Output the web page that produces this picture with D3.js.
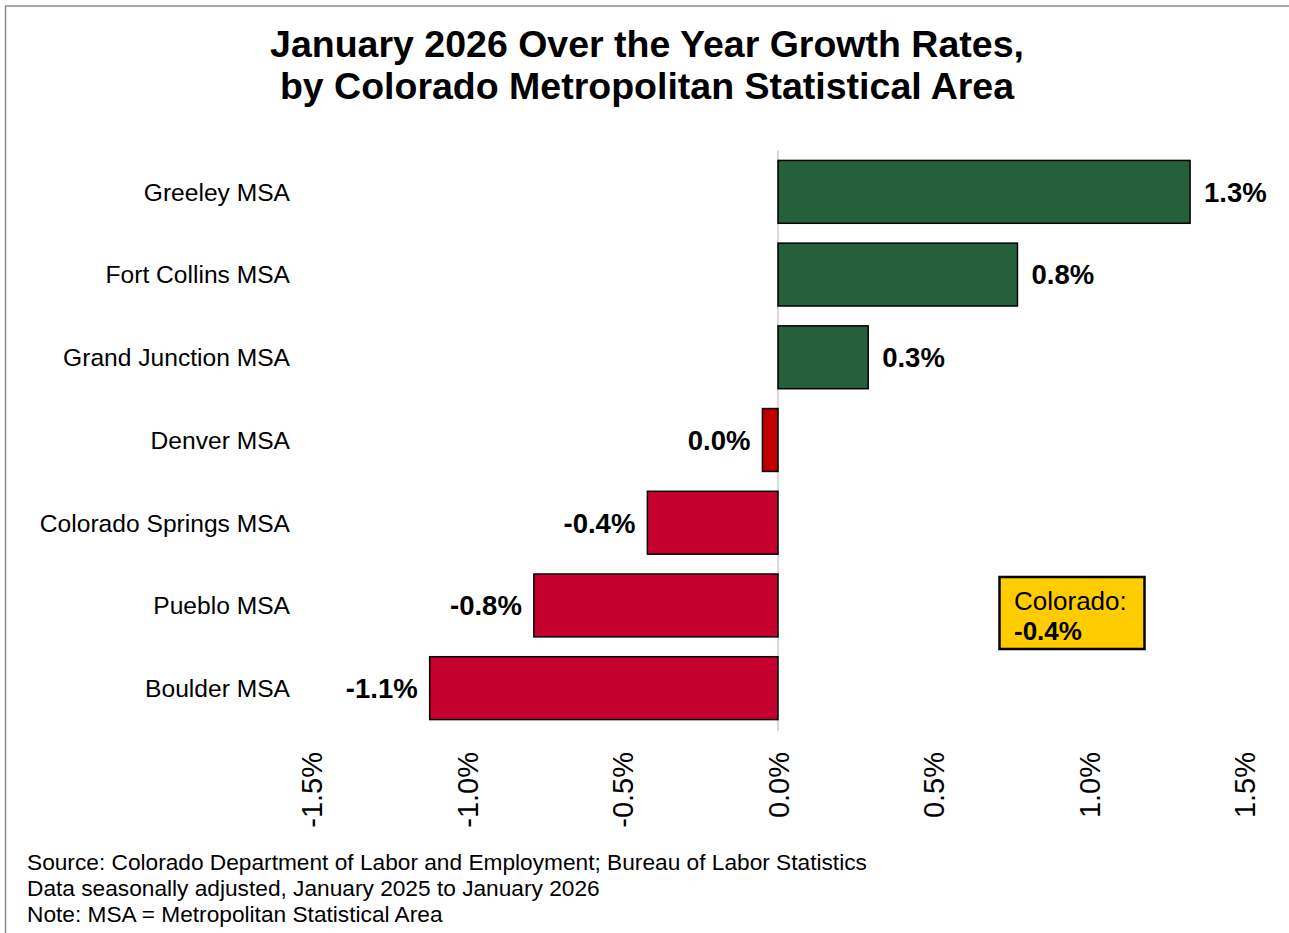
<!DOCTYPE html>
<html>
<head>
<meta charset="utf-8">
<script src="https://cdn.jsdelivr.net/npm/d3@7"></script>
<style>
  html, body { margin: 0; padding: 0; background: #fff; }
  svg { display: block; font-family: Arial, "Liberation Sans", sans-serif; }
</style>
</head>
<body>
<svg id="chart" width="1289" height="933"></svg>
<script>
const titleLines = ["January 2026 Over the Year Growth Rates,", "by Colorado Metropolitan Statistical Area"];
const categories = ["Greeley MSA", "Fort Collins MSA", "Grand Junction MSA", "Denver MSA", "Colorado Springs MSA", "Pueblo MSA", "Boulder MSA"];
const values = [1.325, 0.77, 0.29, -0.05, -0.42, -0.785, -1.12];
const valueLabels = ["1.3%", "0.8%", "0.3%", "0.0%", "-0.4%", "-0.8%", "-1.1%"];
const barColors = ["#265f3b", "#265f3b", "#265f3b", "#c00000", "#c5002f", "#c5002f", "#c5002f"];
const tickValues = [-1.5, -1.0, -0.5, 0.0, 0.5, 1.0, 1.5];
const tickLabels = ["-1.5%", "-1.0%", "-0.5%", "0.0%", "0.5%", "1.0%", "1.5%"];
const calloutLines = ["Colorado:", "-0.4%"];
const footerLines = [
  "Source: Colorado Department of Labor and Employment; Bureau of Labor Statistics",
  "Data seasonally adjusted, January 2025 to January 2026",
  "Note: MSA = Metropolitan Statistical Area"
];

const svg = d3.select("#chart");

// frame (top and left)
svg.append("line").attr("x1", 5).attr("x2", 1289).attr("y1", 6).attr("y2", 6)
  .attr("stroke", "#8c8c8c").attr("stroke-width", 1.5);
svg.append("line").attr("x1", 5.5).attr("x2", 5.5).attr("y1", 6).attr("y2", 933)
  .attr("stroke", "#8c8c8c").attr("stroke-width", 1.5);

// title
svg.append("g").selectAll("text").data(titleLines).join("text")
  .attr("x", 647).attr("y", (d, i) => 57 + i * 42)
  .attr("text-anchor", "middle")
  .attr("font-size", 37.5).attr("font-weight", "bold").attr("fill", "#000")
  .text(d => d);

const x = d3.scaleLinear().domain([-1.5, 1.5]).range([311.5, 1244.5]);
const y = d3.scaleBand().domain(categories).range([150.5, 729.5]).paddingInner(0.24).paddingOuter(0.12);

// zero line
svg.append("line").attr("x1", x(0)).attr("x2", x(0)).attr("y1", 150.5).attr("y2", 731)
  .attr("stroke", "#d9d9d9").attr("stroke-width", 2);

// bars
svg.append("g").selectAll("rect").data(values).join("rect")
  .attr("x", d => x(Math.min(0, d)))
  .attr("width", d => Math.abs(x(d) - x(0)))
  .attr("y", (d, i) => y(categories[i]))
  .attr("height", y.bandwidth())
  .attr("fill", (d, i) => barColors[i])
  .attr("stroke", "#000").attr("stroke-width", 1.5);

// value labels
svg.append("g").selectAll("text").data(values).join("text")
  .attr("x", d => d >= 0 ? x(d) + 14 : x(d) - 12)
  .attr("y", (d, i) => y(categories[i]) + y.bandwidth() / 2)
  .attr("dy", "0.36em")
  .attr("text-anchor", d => d >= 0 ? "start" : "end")
  .attr("font-size", 27.5).attr("font-weight", "bold").attr("fill", "#000")
  .text((d, i) => valueLabels[i]);

// category axis labels
svg.append("g").selectAll("text").data(categories).join("text")
  .attr("x", 290)
  .attr("y", d => y(d) + y.bandwidth() / 2)
  .attr("dy", "0.36em")
  .attr("text-anchor", "end")
  .attr("font-size", 24.6).attr("fill", "#000")
  .text(d => d);

// x axis tick labels (rotated)
const xAxis = d3.axisBottom(x).tickValues(tickValues).tickSize(0)
  .tickFormat((d, i) => tickLabels[i]);
const gx = svg.append("g").attr("transform", "translate(0,752)").call(xAxis);
gx.select(".domain").remove();
gx.selectAll(".tick text")
  .attr("transform", "rotate(-90)")
  .attr("x", 0).attr("y", 0).attr("dy", "0.36em")
  .attr("text-anchor", "end")
  .attr("font-size", 29).attr("font-family", "Arial, 'Liberation Sans', sans-serif")
  .attr("fill", "#000");

// Colorado callout
const cb = svg.append("g");
cb.append("rect").attr("x", 999.5).attr("y", 577).attr("width", 145).attr("height", 72)
  .attr("fill", "#ffcc00").attr("stroke", "#000").attr("stroke-width", 2.5);
cb.selectAll("text").data(calloutLines).join("text")
  .attr("x", 1014).attr("y", (d, i) => 610 + i * 30)
  .attr("font-size", 26).attr("font-weight", (d, i) => i === 1 ? "bold" : "normal")
  .attr("fill", "#000")
  .text(d => d);

// footer
svg.append("g").selectAll("text").data(footerLines).join("text")
  .attr("x", 27).attr("y", (d, i) => 870 + i * 26)
  .attr("font-size", 22.7).attr("fill", "#000")
  .text(d => d);
</script>
</body>
</html>
